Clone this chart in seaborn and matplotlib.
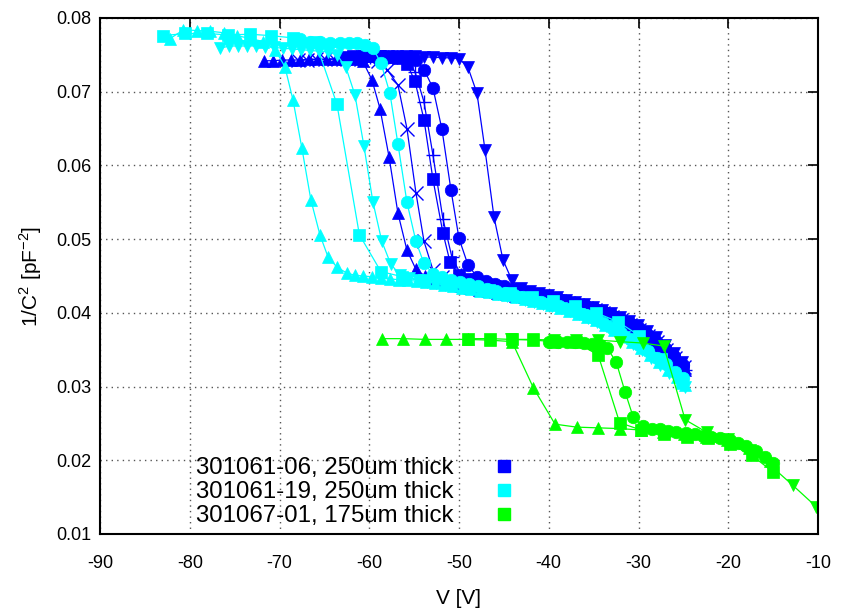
import matplotlib
matplotlib.use('Agg')
import matplotlib.pyplot as plt
from matplotlib.lines import Line2D
import seaborn as sns

# ---- 301061-06, 250um thick (blue) ----
b_up_v = [-71.7, -70.7, -69.7, -68.7, -67.7, -66.7, -65.7, -64.7, -63.7, -62.7, -61.7, -60.7,
          -59.7, -58.8, -57.8, -56.8, -55.8, -54.8,
          -53.8, -52.8, -51.8, -50.8, -49.8, -48.8, -47.8, -46.8, -45.8, -44.8,
          -43.8, -42.8, -41.8, -40.8, -39.8, -38.8, -37.8, -36.8, -35.8, -34.8,
          -33.8, -32.8, -31.8, -30.8, -29.8, -28.8, -27.8, -26.8, -25.8, -24.8]
b_up_y = [0.0742, 0.0742, 0.0743, 0.0743, 0.0743, 0.0744, 0.0744, 0.0744, 0.0745, 0.0745, 0.0745, 0.0741,
          0.0716, 0.0677, 0.0612, 0.0535, 0.0485, 0.0459,
          0.0450, 0.0446, 0.0443, 0.0440, 0.0437, 0.0434, 0.0431, 0.0429, 0.0427, 0.0425,
          0.0423, 0.0421, 0.0419, 0.0417, 0.0415, 0.0412, 0.0409, 0.0406, 0.0403, 0.0399,
          0.0395, 0.0390, 0.0384, 0.0378, 0.0371, 0.0363, 0.0354, 0.0344, 0.0333, 0.0322]

b_x_v = [-67.9, -66.9, -65.9, -64.9, -63.9, -62.9, -61.9, -60.9, -59.9, -59.0,
         -58.0, -56.8, -55.8, -54.8, -53.9, -52.9,
         -51.9, -50.9, -49.9, -48.9, -47.9, -46.9, -45.9, -44.9, -43.9, -42.9,
         -41.9, -40.9, -39.9, -38.9, -37.9, -36.9, -35.9, -34.9, -33.9, -32.9,
         -31.9, -30.9, -29.9, -28.9, -27.9, -26.9, -25.9, -24.9]
b_x_y = [0.0743, 0.0743, 0.0744, 0.0744, 0.0744, 0.0745, 0.0745, 0.0745, 0.0745, 0.0742,
         0.0730, 0.0709, 0.0650, 0.0563, 0.0497, 0.0458,
         0.0449, 0.0445, 0.0441, 0.0438, 0.0435, 0.0432, 0.0430, 0.0428, 0.0426, 0.0424,
         0.0422, 0.0420, 0.0418, 0.0416, 0.0413, 0.0410, 0.0407, 0.0404, 0.0400, 0.0395,
         0.0390, 0.0384, 0.0377, 0.0369, 0.0360, 0.0350, 0.0339, 0.0327]

b_sq_v = [-62.8, -61.8, -60.8, -59.8, -58.8, -57.8, -56.8,
          -55.8, -54.9, -53.9, -52.9, -51.8, -51.0, -50.0,
          -49.0, -48.0, -47.0, -46.0, -45.0, -44.0, -43.0, -42.0, -41.0, -40.0,
          -39.0, -38.0, -37.0, -36.0, -35.0, -34.0, -33.0, -32.0, -31.0, -30.0,
          -29.0, -28.0, -27.0, -26.0, -25.0]
b_sq_y = [0.0747, 0.0748, 0.0748, 0.0748, 0.0748, 0.0747, 0.0746,
          0.0738, 0.0714, 0.0662, 0.0581, 0.0509, 0.0469, 0.0451,
          0.0446, 0.0442, 0.0439, 0.0436, 0.0433, 0.0430, 0.0428, 0.0425, 0.0422, 0.0420,
          0.0417, 0.0414, 0.0411, 0.0407, 0.0403, 0.0399, 0.0394, 0.0388, 0.0382, 0.0374,
          0.0366, 0.0357, 0.0347, 0.0336, 0.0324]

b_pl_v = [-61.9, -60.9, -59.9, -58.9, -57.9, -56.9, -55.9,
          -54.9, -53.9, -52.9, -51.8, -50.8, -49.8,
          -48.8, -47.8, -46.8, -45.8, -44.8, -43.8, -42.8, -41.8, -40.8, -39.8,
          -38.8, -37.8, -36.8, -35.8, -34.8, -33.8, -32.8, -31.8, -30.8, -29.8,
          -28.8, -27.8, -26.8, -25.8, -24.8]
b_pl_y = [0.0746, 0.0746, 0.0747, 0.0747, 0.0747, 0.0747, 0.0745,
          0.0727, 0.0686, 0.0614, 0.0528, 0.0476, 0.0452,
          0.0445, 0.0441, 0.0438, 0.0435, 0.0432, 0.0429, 0.0427, 0.0424, 0.0421, 0.0419,
          0.0416, 0.0413, 0.0410, 0.0406, 0.0402, 0.0398, 0.0393, 0.0387, 0.0380, 0.0372,
          0.0364, 0.0355, 0.0345, 0.0334, 0.0322]

b_ci_v = [-60.8, -59.8, -58.8, -57.8, -56.8, -55.8, -54.8,
          -53.9, -52.9, -51.9, -50.9, -50.0, -49.0, -48.0,
          -47.0, -46.0, -45.0, -44.0, -43.0, -42.0, -41.0, -40.0, -39.0, -38.0,
          -37.0, -36.0, -35.0, -34.0, -33.0, -32.0, -31.0, -30.0, -29.0, -28.0,
          -27.0, -26.0, -25.0]
b_ci_y = [0.0748, 0.0748, 0.0747, 0.0747, 0.0747, 0.0746, 0.0743,
          0.0730, 0.0705, 0.0649, 0.0567, 0.0501, 0.0465, 0.0449,
          0.0443, 0.0439, 0.0436, 0.0433, 0.0430, 0.0427, 0.0425, 0.0422, 0.0419, 0.0416,
          0.0413, 0.0410, 0.0406, 0.0402, 0.0397, 0.0392, 0.0386, 0.0379, 0.0371, 0.0362,
          0.0353, 0.0342, 0.0329]

b_dn_v = [-59.9, -58.9, -57.9, -56.9, -55.9, -54.9, -53.9, -52.9, -51.9, -50.9, -50.0,
          -49.0, -48.0, -47.1, -46.1, -45.1, -44.1,
          -43.1, -42.1, -41.1, -40.1, -39.1, -38.1, -37.1, -36.1, -35.1, -34.1,
          -33.1, -32.1, -31.1, -30.1, -29.1, -28.1, -27.1, -26.1, -25.1]
b_dn_y = [0.0749, 0.0749, 0.0749, 0.0748, 0.0748, 0.0748, 0.0747, 0.0747, 0.0746, 0.0746, 0.0745,
          0.0733, 0.0698, 0.0621, 0.0530, 0.0472, 0.0444,
          0.0434, 0.0430, 0.0427, 0.0424, 0.0421, 0.0418, 0.0415, 0.0412, 0.0408, 0.0404,
          0.0400, 0.0395, 0.0389, 0.0383, 0.0375, 0.0367, 0.0357, 0.0346, 0.0334]

# ---- 301061-19, 250um thick (cyan) ----
c_up_v = [-82.2, -80.7, -79.2, -77.7, -76.2, -74.7, -73.2, -71.8, -70.5,
          -69.4, -68.5, -67.5, -66.5, -65.5, -64.6, -63.6, -62.5, -61.6, -60.7,
          -59.7, -58.7, -57.7, -56.7, -55.7, -54.7,
          -53.7, -52.7, -51.7, -50.7, -49.7, -48.7, -47.7, -46.7, -45.7, -44.7,
          -43.7, -42.7, -41.7, -40.7, -39.7, -38.7, -37.7, -36.7, -35.7, -34.7,
          -33.7, -32.7, -31.7, -30.7, -29.7, -28.7, -27.7, -26.7, -25.7, -24.8]
c_up_y = [0.0772, 0.0784, 0.0783, 0.0782, 0.0780, 0.0776, 0.0772, 0.0768, 0.0757,
          0.0734, 0.0689, 0.0623, 0.0553, 0.0506, 0.0476, 0.0462, 0.0454, 0.0451, 0.0450,
          0.0449, 0.0447, 0.0446, 0.0445, 0.0444, 0.0443,
          0.0442, 0.0440, 0.0438, 0.0436, 0.0434, 0.0432, 0.0430, 0.0428, 0.0426, 0.0424,
          0.0422, 0.0419, 0.0416, 0.0413, 0.0410, 0.0407, 0.0403, 0.0399, 0.0395, 0.0390,
          0.0384, 0.0377, 0.0369, 0.0361, 0.0352, 0.0343, 0.0333, 0.0323, 0.0313, 0.0302]

c_sq_v = [-83.0, -80.5, -78.1, -75.7, -73.3, -70.9, -68.5, -66.0, -63.6, -61.1, -58.7,
          -56.3, -53.9, -51.5, -49.1, -46.7, -44.3, -41.9, -39.5, -37.1, -34.7,
          -32.3, -29.9, -27.5, -25.1]
c_sq_y = [0.0776, 0.0779, 0.0779, 0.0777, 0.0778, 0.0776, 0.0773, 0.0768, 0.0683, 0.0506, 0.0456,
          0.0449, 0.0444, 0.0440, 0.0436, 0.0431, 0.0427, 0.0422, 0.0416, 0.0409, 0.0400,
          0.0388, 0.0369, 0.0338, 0.0305]

c_dn_v = [-76.6, -75.6, -74.6, -73.6, -72.6, -71.6, -70.6, -69.6, -68.6, -67.6, -66.6, -65.6, -64.6, -63.6,
          -62.6, -61.6, -60.6, -59.6, -58.6, -57.6,
          -56.6, -55.6, -54.6, -53.6, -52.6, -51.6, -50.6, -49.6, -48.6, -47.6, -46.6,
          -45.6, -44.6, -43.6, -42.6, -41.6, -40.6, -39.6, -38.6, -37.6, -36.6,
          -35.6, -34.6, -33.6, -32.6, -31.6, -30.6, -29.6, -28.6, -27.6, -26.6, -25.6, -24.8]
c_dn_y = [0.0759, 0.0762, 0.0762, 0.0762, 0.0762, 0.0761, 0.0760, 0.0759, 0.0758, 0.0757, 0.0756, 0.0755, 0.0754, 0.0750,
          0.0733, 0.0696, 0.0627, 0.0551, 0.0497, 0.0466,
          0.0452, 0.0447, 0.0444, 0.0442, 0.0440, 0.0438, 0.0436, 0.0434, 0.0432, 0.0430, 0.0428,
          0.0426, 0.0423, 0.0421, 0.0418, 0.0415, 0.0412, 0.0409, 0.0406, 0.0402, 0.0398,
          0.0393, 0.0388, 0.0382, 0.0375, 0.0367, 0.0358, 0.0349, 0.0339, 0.0329, 0.0319, 0.0309, 0.0300]

c_ci_v = [-67.7, -66.6, -65.5, -64.4, -63.3, -62.3, -61.4, -60.5, -59.6,
          -58.7, -57.7, -56.8, -55.8, -54.8, -53.9, -52.9,
          -51.9, -50.9, -49.9, -48.9, -47.9, -46.9, -45.9, -44.9, -43.9, -42.9,
          -41.9, -40.9, -39.9, -38.9, -37.9, -36.9, -35.9, -34.9, -33.9, -32.9,
          -31.9, -30.9, -29.9, -28.9, -27.9, -26.9, -25.9, -25.0]
c_ci_y = [0.0771, 0.0768, 0.0767, 0.0766, 0.0766, 0.0766, 0.0766, 0.0763, 0.0759,
          0.0739, 0.0698, 0.0629, 0.0550, 0.0497, 0.0467, 0.0453,
          0.0448, 0.0445, 0.0442, 0.0439, 0.0436, 0.0433, 0.0430, 0.0427, 0.0424, 0.0421,
          0.0418, 0.0415, 0.0412, 0.0409, 0.0405, 0.0401, 0.0397, 0.0392, 0.0386, 0.0380,
          0.0373, 0.0365, 0.0357, 0.0348, 0.0339, 0.0330, 0.0320, 0.0311]

# ---- 301067-01, 175um thick (green) ----
g_up_v = [-58.6, -56.2, -53.8, -51.4, -49.0, -46.6, -44.1, -41.7, -39.3, -36.9,
          -34.5, -32.1, -29.7, -27.3, -24.9, -22.5, -20.1, -17.7, -15.3]
g_up_y = [0.0365, 0.0365, 0.0364, 0.0364, 0.0364, 0.0363, 0.0361, 0.0298, 0.0249, 0.0245,
          0.0244, 0.0243, 0.0241, 0.0239, 0.0236, 0.0232, 0.0227, 0.0217, 0.0199]

g_sq_v = [-49.0, -46.6, -44.1, -41.7, -39.4, -37.0, -34.5, -32.1, -29.7, -27.2,
          -24.6, -22.3, -19.8, -17.4, -15.0]
g_sq_y = [0.0365, 0.0365, 0.0364, 0.0363, 0.0361, 0.0360, 0.0343, 0.0251, 0.0241, 0.0236,
          0.0232, 0.0230, 0.0222, 0.0207, 0.0184]

g_ci_v = [-40.0, -39.0, -38.0, -37.1, -36.1, -35.2, -34.3, -33.5, -32.5, -31.5,
          -30.6, -29.5, -28.5, -27.6, -26.7, -25.8, -24.7, -23.7, -22.8, -21.9,
          -20.9, -19.8, -18.9, -18.0, -16.9, -15.9, -15.0]
g_ci_y = [0.0361, 0.0361, 0.0360, 0.0360, 0.0359, 0.0358, 0.0357, 0.0352, 0.0334, 0.0293,
          0.0259, 0.0246, 0.0243, 0.0242, 0.0240, 0.0239, 0.0237, 0.0236, 0.0233, 0.0232,
          0.0230, 0.0227, 0.0224, 0.0219, 0.0213, 0.0205, 0.0196]

g_dn_v = [-44.2, -41.8, -39.4, -37.0, -34.5, -32.1, -29.5, -27.2, -24.8, -22.4,
          -20.0, -17.6, -15.2, -12.8, -10.2]
g_dn_y = [0.0364, 0.0364, 0.0363, 0.0363, 0.0363, 0.0361, 0.0359, 0.0355, 0.0255, 0.0238,
          0.0229, 0.0214, 0.0192, 0.0166, 0.0137]

labels = ['301061-06, 250um thick', '301061-19, 250um thick', '301067-01, 175um thick']
colors = ['#0000ff', '#00ffff', '#00ff00']

x_ticks = [-90, -80, -70, -60, -50, -40, -30, -20, -10]
y_ticks = [0.01, 0.02, 0.03, 0.04, 0.05, 0.06, 0.07, 0.08]


def draw(ax, v, y, color, marker):
    filled = marker not in ('+', 'x')
    sns.lineplot(x=v, y=y, ax=ax, color=color, marker=marker,
                 markersize=9 if filled else 9.5,
                 markeredgecolor=color, markeredgewidth=0.5 if filled else 1.0,
                 linewidth=0.9, sort=False, estimator=None)


def main():
    sns.set_theme(style='white')
    plt.rcParams['font.family'] = ['Liberation Sans', 'DejaVu Sans']
    plt.rcParams['mathtext.fontset'] = 'custom'
    plt.rcParams['mathtext.rm'] = 'Liberation Sans'
    plt.rcParams['axes.unicode_minus'] = False
    plt.rcParams['text.color'] = 'black'
    plt.rcParams['axes.labelcolor'] = 'black'

    fig = plt.figure(figsize=(8.44, 6.12), dpi=100)
    ax = fig.add_axes([100 / 844, 1 - 534 / 612, 718 / 844, 516 / 612])

    curves = [
        (b_up_v, b_up_y, colors[0], '^'),
        (b_x_v, b_x_y, colors[0], 'x'),
        (b_sq_v, b_sq_y, colors[0], 's'),
        (b_pl_v, b_pl_y, colors[0], '+'),
        (b_ci_v, b_ci_y, colors[0], 'o'),
        (b_dn_v, b_dn_y, colors[0], 'v'),
        (c_ci_v, c_ci_y, colors[1], 'o'),
        (c_dn_v, c_dn_y, colors[1], 'v'),
        (c_sq_v, c_sq_y, colors[1], 's'),
        (c_up_v, c_up_y, colors[1], '^'),
        (g_up_v, g_up_y, colors[2], '^'),
        (g_sq_v, g_sq_y, colors[2], 's'),
        (g_ci_v, g_ci_y, colors[2], 'o'),
        (g_dn_v, g_dn_y, colors[2], 'v'),
    ]
    for v, y, col, mk in curves:
        draw(ax, v, y, col, mk)

    ax.set_xlim(-90, -10)
    ax.set_ylim(0.01, 0.08)
    ax.set_xticks(x_ticks)
    ax.set_yticks(y_ticks)
    ax.set_xticklabels([str(t) for t in x_ticks])
    ax.set_yticklabels(['%.2f' % t for t in y_ticks])
    ax.tick_params(direction='in', length=7, width=1.2, top=True, right=True,
                   labelsize=13, colors='black')
    ax.tick_params(axis='x', pad=15)
    ax.tick_params(axis='y', pad=6)
    ax.grid(True, color='#555555', linestyle=(0, (1, 3)), linewidth=1)
    for sp in ax.spines.values():
        sp.set_color('black')
        sp.set_linewidth(1.5)

    ax.set_xlabel('V [V]', fontsize=15, labelpad=12)
    ax.set_ylabel(r'1/C$^{\mathregular{2}}$ [pF$^{\mathregular{-2}}$]', fontsize=15, labelpad=9)

    handles = [Line2D([], [], color=c, marker='s', linestyle='none', markersize=9,
                      markeredgecolor=c) for c in colors]
    ax.legend(handles, labels, loc='lower right', bbox_to_anchor=(516 / 844, 1 - 527 / 612),
              bbox_transform=fig.transFigure, frameon=False, markerfirst=False,
              fontsize=17.3, handlelength=1.0, handletextpad=1.6, labelspacing=0.08,
              borderpad=0, borderaxespad=0)

    fig.savefig('out.png', dpi=100)


if __name__ == '__main__':
    main()
